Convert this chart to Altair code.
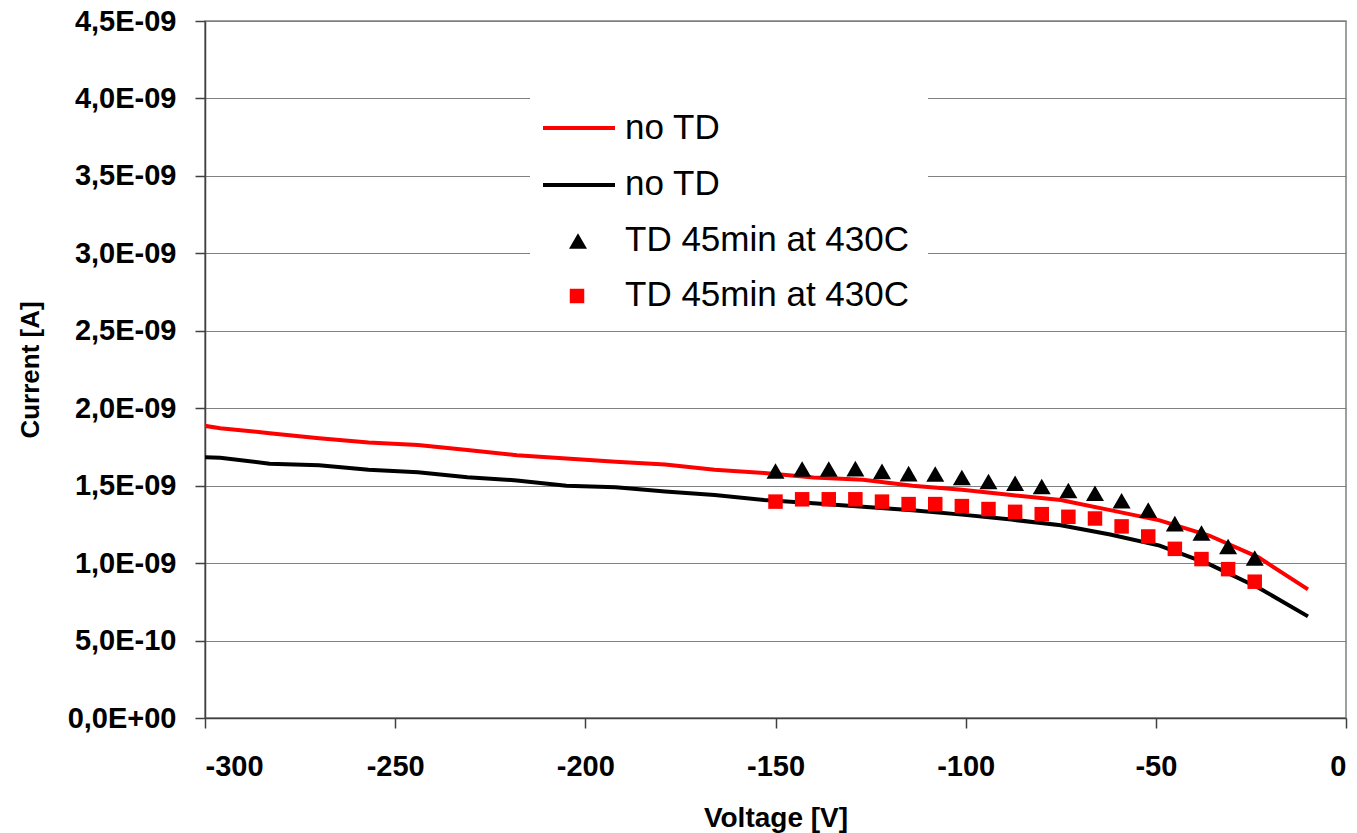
import altair as alt
import pandas as pd

# ---- data (voltage in V, current in nA) ----
volt_line = [-309, -296, -283, -270, -257, -244, -231, -218, -205, -192, -179, -166,
             -153, -140, -127, -114, -101, -88, -75, -62, -49, -36, -23, -10]
red_noTD = [1.92, 1.871, 1.839, 1.806, 1.778, 1.763, 1.730, 1.697, 1.675, 1.654, 1.636, 1.603,
            1.582, 1.553, 1.538, 1.499, 1.473, 1.440, 1.407, 1.342, 1.276, 1.178, 1.037, 0.830]
black_noTD = [1.69, 1.680, 1.642, 1.632, 1.603, 1.586, 1.554, 1.534, 1.499, 1.490, 1.462, 1.440,
              1.407, 1.386, 1.364, 1.342, 1.313, 1.281, 1.244, 1.185, 1.113, 0.993, 0.841, 0.656]

volt_pts = [-150, -143, -136, -129, -122, -115, -108, -101, -94, -87, -80, -73, -66,
            -59, -52, -45, -38, -31, -24]
tri_TD = [1.595, 1.608, 1.608, 1.610, 1.592, 1.578, 1.575, 1.553, 1.527, 1.516, 1.495,
          1.469, 1.451, 1.403, 1.342, 1.255, 1.194, 1.107, 1.033]
sq_TD = [1.397, 1.412, 1.412, 1.412, 1.397, 1.381, 1.381, 1.368, 1.349, 1.331, 1.316,
         1.299, 1.288, 1.237, 1.172, 1.092, 1.026, 0.961, 0.880]

x_ticks = [-300, -250, -200, -150, -100, -50, 0]
y_ticks_nA = [0, 0.5, 1.0, 1.5, 2.0, 2.5, 3.0, 3.5, 4.0, 4.5]

legend_labels = ["no TD", "no TD", "TD 45min at 430C", "TD 45min at 430C"]


def to_amp(v):
    return float(f"{v}e-9")


red_df = pd.DataFrame({"V": volt_line, "I": [to_amp(v) for v in red_noTD]})
black_df = pd.DataFrame({"V": volt_line, "I": [to_amp(v) for v in black_noTD]})
tri_df = pd.DataFrame({"V": volt_pts, "I": [to_amp(v) for v in tri_TD]})
sq_df = pd.DataFrame({"V": volt_pts, "I": [to_amp(v) for v in sq_TD]})

FONT = "Liberation Sans"
W, H = 1141, 697

label_expr = ("datum.value < 1e-12 ? '0,0E+00' : datum.value < 0.95e-9 ? "
              "replace(format(datum.value*1e10, '.1f'), '.', ',') + 'E-10' : "
              "replace(format(datum.value*1e9, '.1f'), '.', ',') + 'E-09'")

x_enc = alt.X("V:Q",
              scale=alt.Scale(domain=[-300, 0], nice=False, zero=False),
              axis=alt.Axis(values=x_ticks, labelExpr="'' + datum.value",
                            title="Voltage [V]", grid=False,
                            tickSize=10, labelPadding=24, labelFontSize=29,
                            titleFontSize=28, titleY=100, titleBaseline="middle"))
y_enc = alt.Y("I:Q",
              scale=alt.Scale(domain=[0, to_amp(4.5)], nice=False, zero=True),
              axis=alt.Axis(values=[to_amp(v) for v in y_ticks_nA], labelExpr=label_expr,
                            title="Current [A]", grid=True, tickSize=10, labelPadding=19,
                            labelFontSize=29, titleFontSize=26, titleX=-175, titleY=H / 2,
                            titleAlign="center", titleBaseline="middle"))

red_line = alt.Chart(red_df).mark_line(color="#FF0000", strokeWidth=4, clip=True).encode(x=x_enc, y=y_enc)
black_line = alt.Chart(black_df).mark_line(color="#000000", strokeWidth=4, clip=True).encode(x=x_enc, y=y_enc)
tri_pts = alt.Chart(tri_df).mark_point(shape="triangle-up", filled=True, color="#000000",
                                       size=324, opacity=1).encode(x=x_enc, y=y_enc)
sq_pts = alt.Chart(sq_df).mark_point(shape="square", filled=True, color="#FF0000",
                                     size=210, opacity=1).encode(x=x_enc, y=y_enc)

# ---- legend drawn inside plot (positions relative to plot area) ----
one = alt.Data(values=[{"k": 0}])
leg_bg = alt.Chart(one).mark_rect(fill="white").encode(
    x=alt.value(325), x2=alt.value(723), y=alt.value(67), y2=alt.value(297))
leg_red = alt.Chart(one).mark_rule(color="#FF0000", strokeWidth=4).encode(
    x=alt.value(338), x2=alt.value(410), y=alt.value(107))
leg_black = alt.Chart(one).mark_rule(color="#000000", strokeWidth=4).encode(
    x=alt.value(338), x2=alt.value(410), y=alt.value(164))
leg_tri = alt.Chart(one).mark_point(shape="triangle-up", filled=True, color="#000000",
                                    size=324, opacity=1).encode(x=alt.value(373), y=alt.value(220))
leg_sq = alt.Chart(one).mark_point(shape="square", filled=True, color="#FF0000",
                                   size=210, opacity=1).encode(x=alt.value(372), y=alt.value(275))
leg_text = []
for lab, yy in zip(legend_labels, [106.5, 163, 219, 274]):
    leg_text.append(alt.Chart(one).mark_text(text=lab, align="left", baseline="middle",
                                             font=FONT, fontSize=35, color="#000000").encode(
        x=alt.value(420), y=alt.value(yy)))

chart = alt.layer(red_line, black_line, tri_pts, sq_pts, leg_bg, leg_red, leg_black,
                  leg_tri, leg_sq, *leg_text).properties(
    width=W, height=H,
    padding={"left": 205, "top": 21, "right": 11, "bottom": 115},
    autosize=alt.AutoSizeParams(type="none"),
    background="white",
).configure_view(
    stroke="#808080", strokeWidth=1.5
).configure_axis(
    labelFont=FONT, titleFont=FONT, labelFontWeight="bold", titleFontWeight="bold",
    labelColor="#000000", titleColor="#000000",
    domainColor="#404040", domainWidth=1.5, tickColor="#404040", tickWidth=1.5,
    gridColor="#808080", gridWidth=1.2,
)

chart.save("out.html", embed_options={"renderer": "svg", "actions": False})
